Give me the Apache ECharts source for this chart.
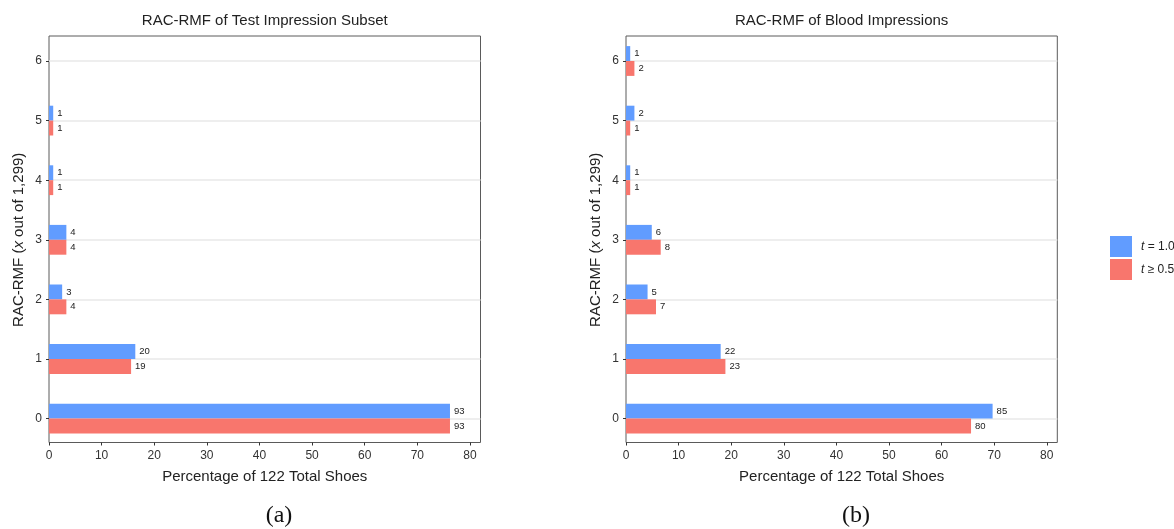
<!DOCTYPE html>
<html>
<head>
<meta charset="utf-8">
<script src="https://cdn.jsdelivr.net/npm/echarts@6/dist/echarts.min.js"></script>
<style>html,body{margin:0;padding:0;background:#fff;}#c{width:1174px;height:529px;}</style>
</head>
<body>
<div id="c"></div>
<script>
// ---- data ----
const categories = ['0', '1', '2', '3', '4', '5', '6'];
// panel (a): Test Impression Subset — percentage of 122 shoes, and counts
const pctA_t10 = [76.2, 16.4, 2.5, 3.3, 0.8, 0.8, null];
const pctA_t05 = [76.2, 15.6, 3.3, 3.3, 0.8, 0.8, null];
const cntA_t10 = [93, 20, 3, 4, 1, 1, null];
const cntA_t05 = [93, 19, 4, 4, 1, 1, null];
// panel (b): Blood Impressions
const pctB_t10 = [69.7, 18.0, 4.1, 4.9, 0.8, 1.6, 0.8];
const pctB_t05 = [65.6, 18.9, 5.7, 6.6, 0.8, 0.8, 1.6];
const cntB_t10 = [85, 22, 5, 6, 1, 2, 1];
const cntB_t05 = [80, 23, 7, 8, 1, 1, 2];
const xTicks = [0, 10, 20, 30, 40, 50, 60, 70, 80];
const titles = ['RAC-RMF of Test Impression Subset', 'RAC-RMF of Blood Impressions'];
const captions = ['(a)', '(b)'];
const seriesNames = ['t = 1.0', 't ≥ 0.5'];

const BLUE = '#619CFF', RED = '#F8766D';
const FONT = '"Liberation Sans", Arial, sans-serif';

const panels = [
  {left: 49, right: 480.5, t10: pctA_t10, t05: pctA_t05, c10: cntA_t10, c05: cntA_t05},
  {left: 626, right: 1057.3, t10: pctB_t10, t05: pctB_t05, c10: cntB_t10, c05: cntB_t05}
];
const frameTop = 36, frameBottom = 442.5;
const cat6Y = 61, cat0Y = 418.6;

const grids = [], xAxes = [], yAxes = [], series = [], graphics = [];
panels.forEach((p, i) => {
  const w = p.right - p.left;
  // frame grid
  grids.push({left: p.left, top: frameTop, width: w, height: frameBottom - frameTop,
    show: true, borderColor: '#5a5a5a', borderWidth: 1, backgroundColor: 'transparent'});
  // bar grid
  grids.push({left: p.left, top: cat6Y, width: w, height: cat0Y - cat6Y, show: false});
  const gf = i * 2, gb = i * 2 + 1;
  xAxes.push({type: 'value', gridIndex: gf, min: 0, max: 82, interval: 10,
    axisLine: {show: false},
    axisTick: {show: true, length: 3, lineStyle: {color: '#333'},
      customValues: xTicks},
    axisLabel: {show: true, color: '#333', fontSize: 12, fontFamily: FONT, margin: 7,
      customValues: xTicks},
    splitLine: {show: false},
    name: 'Percentage of 122 Total Shoes', nameLocation: 'middle', nameGap: 27,
    nameTextStyle: {color: '#222', fontSize: 15, fontFamily: FONT}});
  xAxes.push({type: 'value', gridIndex: gb, min: 0, max: 82, show: false, splitLine: {show: false}});
  yAxes.push({type: 'value', gridIndex: gf, show: false, splitLine: {show: false}});
  yAxes.push({type: 'category', gridIndex: gb, data: categories, boundaryGap: false,
    axisLine: {show: false},
    axisTick: {show: true, length: 3, lineStyle: {color: '#333'}},
    axisLabel: {color: '#333', fontSize: 12, fontFamily: FONT, margin: 7},
    splitLine: {show: true, lineStyle: {color: '#E8E8E8', width: 1.5}},
    name: 'RAC-RMF ({i|x} out of 1,299)', nameLocation: 'middle', nameGap: 23,
    nameTextStyle: {color: '#222', fontSize: 15, fontFamily: FONT,
      rich: {i: {fontStyle: 'italic', fontSize: 15, fontFamily: FONT, color: '#222'}}}});
  const mk = (name, data, counts, color) => ({
    type: 'bar', name: name, xAxisIndex: gb, yAxisIndex: gb, data: data,
    barWidth: '25%', barGap: '0%', clip: false,
    itemStyle: {color: color},
    label: {show: true, position: 'right', distance: 4, fontSize: 9.5, color: '#222', fontFamily: FONT,
      formatter: (pp) => counts[pp.dataIndex] == null ? '' : String(counts[pp.dataIndex])}
  });
  series.push(mk(seriesNames[0], p.t10, p.c10, BLUE));
  series.push(mk(seriesNames[1], p.t05, p.c05, RED));
  const cx = (p.left + p.right) / 2;
  graphics.push({type: 'text', x: cx, y: 21, style: {text: titles[i], fill: '#222',
    font: '15px ' + FONT, textAlign: 'center', textVerticalAlign: 'middle'}});
  graphics.push({type: 'text', x: i === 0 ? 279 : 856, y: 516, style: {text: captions[i], fill: '#111',
    font: '24px "Liberation Serif", "DejaVu Serif", serif', textAlign: 'center', textVerticalAlign: 'middle'}});
});

const chart = echarts.init(document.getElementById('c'), null, {renderer: 'canvas'});
chart.setOption({
  animation: false,
  backgroundColor: '#fff',
  grid: grids, xAxis: xAxes, yAxis: yAxes, series: series,
  legend: {orient: 'vertical', left: 1105, top: 231, itemWidth: 22, itemHeight: 21, itemGap: 2,
    icon: 'rect', data: seriesNames,
    formatter: (n) => '{i|t}' + n.slice(1),
    textStyle: {color: '#222', fontSize: 12, fontFamily: FONT, padding: [0, 0, 0, 4],
      rich: {i: {fontStyle: 'italic', fontSize: 12, fontFamily: FONT, color: '#222'}}}},
  graphic: graphics
});
</script>
</body>
</html>
